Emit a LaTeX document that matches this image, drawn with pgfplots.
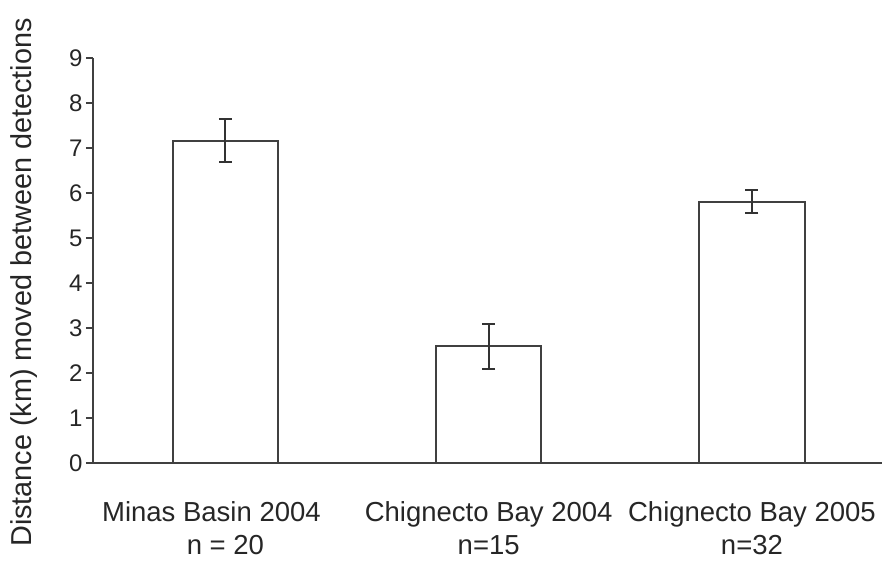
\documentclass[border=0pt]{standalone}
\usepackage{fontspec}
\setmainfont{Liberation Sans}
\usepackage{pgfplots}
\pgfplotsset{compat=1.18}
\begin{document}
\begin{tikzpicture}
\begin{axis}[
  name=a,
  scale only axis, width=789pt, height=404.7pt,
  xmin=-0.503, xmax=2.494, ymin=0, ymax=9,
  axis x line=bottom, axis y line=left,
  axis line style={-, draw=black!75, line width=2pt},
  ytick={0,1,...,9},
  xtick={0,1,2},
  xticklabels={{Minas Basin 2004\hspace*{28pt}\\n = 20},{Chignecto Bay 2004\\n=15},{Chignecto Bay 2005\\n=32}},
  tick align=outside,
  major tick length=7pt,
  y tick style={draw=black!75, line width=1.8pt},
  x tick style={draw=none},
  /pgf/number format/assume math mode=true,
  yticklabel style={font=\fontsize{24}{28}\selectfont, text=black!85},
  xticklabel style={font=\fontsize{27.5}{33}\selectfont, align=center, text=black!85, inner sep=0pt, yshift=-31pt},
  ylabel={Distance (km) moved between detections},
  ylabel style={font=\fontsize{28.8}{30}\selectfont, text=black!85, at={(axis description cs:-0.0697,0.446)}, anchor=south, inner sep=0pt},
]
\addplot[ybar, bar width=0.4, draw=black!75, fill=white, line width=2pt,
  error bars/.cd, y dir=both, y explicit,
  error bar style={line width=2pt, draw=black!80},
  error mark options={rotate=90, mark size=6.5pt, line width=2pt, draw=black!80}]
  coordinates {
    (0,7.17) +- (0,0.48)
    (1,2.60) +- (0,0.50)
    (2,5.81) +- (0,0.26)
  };
\end{axis}
\pgfresetboundingbox
\path ([shift={(-93pt,-98pt)}]a.south west) rectangle ([shift={(789pt,463pt)}]a.south west);
\end{tikzpicture}
\end{document}
